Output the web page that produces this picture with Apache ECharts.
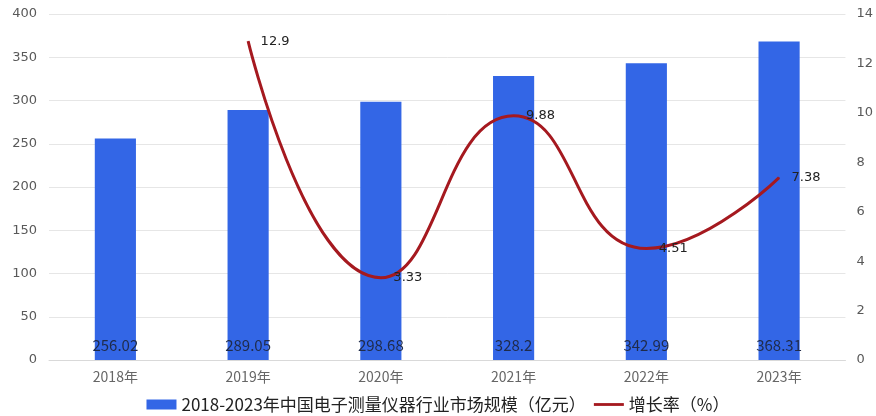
<!DOCTYPE html>
<html><head><meta charset="utf-8">
<script src="https://cdn.jsdelivr.net/npm/echarts@6/dist/echarts.min.js"></script>
<style>html,body{margin:0;padding:0;background:#fff}#c{width:876px;height:416px}</style>
</head><body><div id="c"></div>
<script>
const categories = ['2018年','2019年','2020年','2021年','2022年','2023年'];
const marketSize = [256.02, 289.05, 298.68, 328.2, 342.99, 368.31];
const growthRate = [null, 12.9, 3.33, 9.88, 4.51, 7.38];
const leftTicks = {min:0, max:400, interval:50};
const rightTicks = {min:0, max:14, interval:2};
const barName = '2018-2023年中国电子测量仪器行业市场规模（亿元）';
const lineName = '增长率（%）';

const chart = echarts.init(document.getElementById('c'));
const font = '"Microsoft YaHei","Noto Sans CJK SC",sans-serif';
const axisFont = '"DejaVu Sans",sans-serif';
chart.setOption({
  animation:false,
  textStyle:{fontFamily:font},
  grid:{left:49, right:29, top:14, bottom:56, containLabel:false},
  legend:{top:396, left:'center', itemGap:8, itemWidth:30, itemHeight:10, padding:0,
    textStyle:{fontSize:17, color:'#222', fontFamily:font},
    data:[{name:barName, icon:'rect'}, {name:lineName, icon:'path://M0,0H32V3H0Z'}]},
  xAxis:{type:'category', data:categories,
    axisLine:{lineStyle:{color:'#d9d9d9'}}, axisTick:{show:false},
    axisLabel:{color:'#666', fontSize:14, margin:10}},
  yAxis:[
    {type:'value', min:leftTicks.min, max:leftTicks.max, interval:leftTicks.interval,
     axisLabel:{color:'#595959', fontSize:13, margin:12, fontFamily:axisFont},
     splitLine:{lineStyle:{color:'#e6e6e6'}}, axisLine:{show:false}, axisTick:{show:false}},
    {type:'value', min:rightTicks.min, max:rightTicks.max, interval:rightTicks.interval,
     axisLabel:{color:'#595959', fontSize:13, margin:11, fontFamily:axisFont},
     splitLine:{show:false}, axisLine:{show:false}, axisTick:{show:false}}
  ],
  series:[
    {name:barName, type:'bar', data:marketSize, barWidth:'31%',
     itemStyle:{color:'#3366e6'},
     label:{show:true, position:'insideBottom', distance:7, color:'#1f2b4a', fontSize:15}},
    {name:lineName, type:'line', yAxisIndex:1, data:growthRate, smooth:0.5,
     showSymbol:true, symbol:'circle', symbolSize:1, connectNulls:false,
     lineStyle:{color:'#a5191f', width:3}, itemStyle:{color:'#a5191f'},
     label:{show:true, position:'right', distance:12, color:'#222', fontSize:13, fontFamily:axisFont}}
  ]
});
</script></body></html>
